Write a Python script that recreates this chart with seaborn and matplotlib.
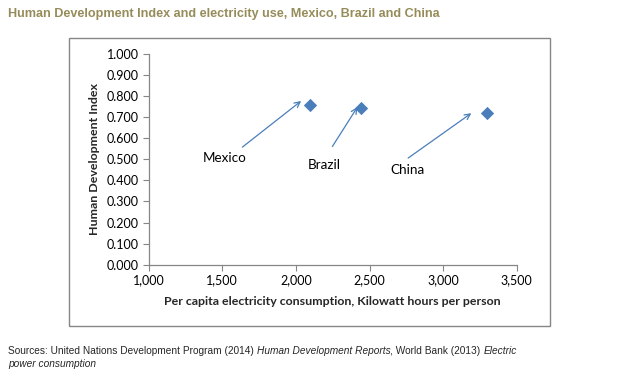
import matplotlib
matplotlib.use("Agg")
import matplotlib.pyplot as plt
import seaborn as sns
import pandas as pd
from matplotlib.patches import Rectangle
from matplotlib.ticker import FuncFormatter

countries = ["Mexico", "Brazil", "China"]
electricity = [2095, 2440, 3298]
hdi = [0.756, 0.744, 0.719]
# arrow start/end points and label anchors in data units
arrow_start_x = [1637, 2248, 2762]
arrow_start_y = [0.558, 0.561, 0.506]
arrow_end_x = [2036, 2418, 3191]
arrow_end_y = [0.777, 0.748, 0.719]
label_x = [1365, 2082, 2641]
label_y = [0.506, 0.473, 0.449]

df = pd.DataFrame({"country": countries, "kwh": electricity, "hdi": hdi})

sns.set_theme(style="white")
plt.rcParams["font.family"] = ["Lato", "DejaVu Sans"]

fig = plt.figure(figsize=(6.18, 3.80), dpi=100)
fig.patch.set_facecolor("white")

# outer chart frame
fig.patches.append(Rectangle((0.1117, 0.1421), 0.778, 0.757, transform=fig.transFigure,
                             fill=False, edgecolor="#868686", linewidth=1.0, zorder=0))

ax = fig.add_axes([0.2403, 0.3034, 0.596, 0.5545])
blue = "#4A7EBB"
sns.scatterplot(data=df, x="kwh", y="hdi", marker="D", s=46, color=blue,
                edgecolor=blue, linewidth=0, ax=ax, legend=False, zorder=3)

for i in range(len(countries)):
    ax.annotate("", xy=(arrow_end_x[i], arrow_end_y[i]),
                xytext=(arrow_start_x[i], arrow_start_y[i]),
                arrowprops=dict(arrowstyle="->", color=blue, lw=0.9,
                                shrinkA=0, shrinkB=0, mutation_scale=10))
    ax.text(label_x[i], label_y[i], countries[i], fontsize=9.7, color="#000000",
            ha="left", va="center")

ax.set_xlim(1000, 3500)
ax.set_ylim(0, 1.0)
ax.set_xticks([1000, 1500, 2000, 2500, 3000, 3500])
ax.set_yticks([i / 10 for i in range(11)])
ax.xaxis.set_major_formatter(FuncFormatter(lambda v, p: f"{int(v):,}"))
ax.yaxis.set_major_formatter(FuncFormatter(lambda v, p: f"{v:.3f}"))
ax.tick_params(axis="both", labelsize=9, colors="#000000", length=4, width=0.8,
               direction="out", bottom=True, left=True, pad=3)
ax.tick_params(axis="both", color="#868686")
for s in ["top", "right"]:
    ax.spines[s].set_visible(False)
for s in ["left", "bottom"]:
    ax.spines[s].set_color("#868686")
    ax.spines[s].set_linewidth(0.9)
ax.set_xlabel("Per capita electricity consumption, Kilowatt hours per person",
              fontsize=8.9, fontweight="bold", labelpad=7)
ax.set_ylabel("Human Development Index", fontsize=8.9, fontweight="bold", labelpad=5)
ax.grid(False)

fig.text(0.013, 0.963, "Human Development Index and electricity use, Mexico, Brazil and China",
         family=["Liberation Sans", "DejaVu Sans"], fontsize=9.1, fontweight="bold",
         color="#968C5A", ha="left", va="center")

src_font = ["Liberation Sans", "DejaVu Sans"]
renderer = fig.canvas.get_renderer()
parts = [("Sources: United Nations Development Program (2014) ", "normal"),
         ("Human Development Reports", "italic"),
         (", World Bank (2013) ", "normal"),
         ("Electric", "italic")]
x = 0.013
for txt, st in parts:
    t = fig.text(x, 0.0763, txt, family=src_font, fontsize=7.3, style=st,
                 ha="left", va="center")
    bb = t.get_window_extent(renderer=renderer)
    x += bb.width / fig.bbox.width
fig.text(0.013, 0.042, "power consumption", family=src_font, fontsize=7.3,
         style="italic", ha="left", va="center")

fig.savefig("out.png", dpi=100, facecolor="white")
